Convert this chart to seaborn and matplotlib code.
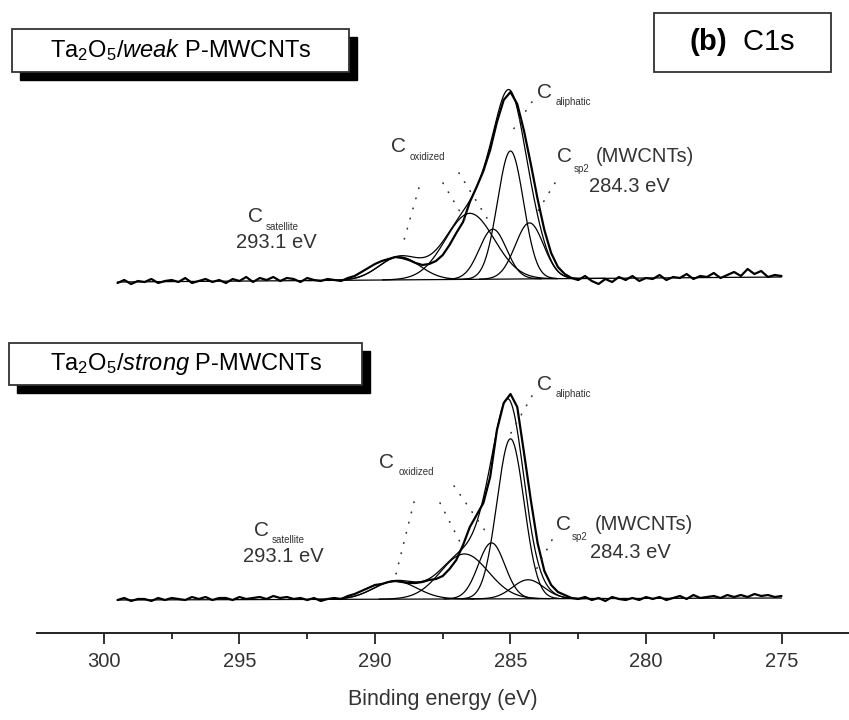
import numpy as np
import pandas as pd
import matplotlib
matplotlib.use('Agg')
import matplotlib.pyplot as plt
import seaborn as sns
from matplotlib.patches import Rectangle

# 1. Data (intensity in a.u., 0.25 eV steps from 299.5 eV)
E_START, E_STEP = 299.5, 0.25

weak_counts = [2, 5, 1, 4, 3, 6, 2, 4, 5, 3, 7, 2, 4, 6, 3, 5,
               2, 6, 4, 8, 3, 7, 5, 8, 4, 7, 6, 3, 7, 5, 4, 6,
               5, 4, 7, 9, 13, 17, 21, 24, 26, 28, 27, 25, 22, 20, 21, 24,
               30, 40, 52, 63, 83, 98, 114, 135, 163, 185, 193, 181, 154, 121, 86, 55,
               32, 18, 11, 7, 5, 9, 4, 1, 6, 3, 8, 5, 9, 4, 7, 6,
               10, 5, 8, 7, 11, 6, 9, 8, 12, 7, 10, 13, 9, 16, 11, 14,
               8, 10, 9]

strong_counts = [3, 5, 2, 4, 4, 2, 5, 3, 5, 4, 3, 6, 4, 6, 3, 5,
                 5, 3, 6, 4, 5, 6, 4, 7, 5, 6, 4, 5, 3, 5, 2, 4,
                 5, 4, 7, 9, 12, 15, 18, 19, 21, 22, 21, 20, 20, 21, 23, 24,
                 27, 34, 43, 58, 76, 88, 100, 126, 173, 200, 209, 196, 150, 103, 60, 32,
                 18, 11, 8, 5, 4, 6, 3, 5, 2, 6, 4, 3, 5, 3, 6, 4,
                 6, 3, 5, 7, 4, 8, 5, 6, 7, 5, 8, 6, 8, 6, 9, 7,
                 8, 6, 7]

# fitted components: satellite, oxidized, C-O, aliphatic, sp2
weak_centers = [289.1, 286.5, 285.65, 285.0, 284.3]
weak_heights = [23, 66, 50, 128, 56]
weak_widths = [0.75, 0.9, 0.5, 0.48, 0.52]
weak_bg = [3, 8]

strong_centers = [289.25, 286.7, 285.7, 285.0, 284.35]
strong_heights = [18, 45, 56, 160, 19]
strong_widths = [0.8, 0.88, 0.49, 0.5, 0.58]
strong_bg = [3, 5]

WEAK_OFFSET, STRONG_OFFSET = 348, 30
x_ticks = [300, 295, 290, 285, 280, 275]
TXT = '#333333'

energy = E_START - E_STEP * np.arange(len(weak_counts))


def background(e, bg):
    return bg[0] + (bg[1] - bg[0]) * (E_START - e) / (E_START - energy[-1])


def gauss(e, c, h, s):
    return h * np.exp(-(e - c) ** 2 / (2 * s ** 2))


# 2. Figure setup
sns.set_theme(style='white')
plt.rcParams['font.family'] = ['Liberation Sans', 'DejaVu Sans']
plt.rcParams['mathtext.fontset'] = 'custom'
plt.rcParams['mathtext.rm'] = 'Liberation Sans'
plt.rcParams['mathtext.it'] = 'Liberation Sans:italic'
plt.rcParams['mathtext.bf'] = 'Liberation Sans:bold'

W, H = 849, 720
fig = plt.figure(figsize=(W / 100, H / 100), dpi=100)
ax = fig.add_axes([37 / W, 87 / H, 812 / W, 633 / H])


def draw_spectrum(counts, centers, heights, widths, bg, offset):
    df = pd.DataFrame({'energy': energy, 'counts': np.array(counts) + offset})
    sns.lineplot(data=df, x='energy', y='counts', ax=ax, color='black', lw=1.6, sort=False)
    ax.plot(energy, background(energy, bg) + offset, color='black', lw=0.9)
    fine = np.linspace(292.5, 281.5, 500)
    total = background(fine, bg).copy()
    for c, h, s in zip(centers, heights, widths):
        seg = fine[(fine <= c + 3.6 * s) & (fine >= c - 3.6 * s)]
        ax.plot(seg, background(seg, bg) + gauss(seg, c, h, s) + offset, color='black', lw=0.9)
        total += gauss(fine, c, h, s)
    ax.plot(fine, total + offset, color='black', lw=0.9)


draw_spectrum(weak_counts, weak_centers, weak_heights, weak_widths, weak_bg, WEAK_OFFSET)
draw_spectrum(strong_counts, strong_centers, strong_heights, strong_widths, strong_bg, STRONG_OFFSET)


# 3. Peak labels with dotted leaders
def c_label(e, y, sub, dx=7.5, dy=-7.5):
    ax.text(e, y, 'C', ha='center', va='center', fontsize=15, color=TXT)
    ax.annotate(sub, xy=(e, y), xytext=(dx, dy), textcoords='offset points',
                ha='left', va='center', fontsize=7, color=TXT)


def leader(e1, y1, e2, y2):
    ax.plot([e1, e2], [y1, y2], color=TXT, lw=1.2, linestyle=(0, (0.3, 6)),
            dash_capstyle='round')


# top spectrum
c_label(294.4, 416, 'satellite')
ax.text(293.65, 390, '293.1 eV', ha='center', va='center', fontsize=14.5, color=TXT)
c_label(289.15, 486, 'oxidized', dx=8.5)
c_label(283.73, 541, 'aliphatic')
c_label(283.0, 476, 'sp2', dx=6.5, dy=-9)
ax.text(281.85, 476, '(MWCNTs)', ha='left', va='center', fontsize=14.5, color=TXT)
ax.text(280.6, 447, '284.3 eV', ha='center', va='center', fontsize=14.5, color=TXT)
leader(288.38, 445, 289.0, 386)
leader(287.49, 450, 286.64, 411)
leader(286.90, 460, 285.87, 415)
leader(284.21, 531, 285.06, 497)
leader(283.36, 450, 284.10, 417)

# bottom spectrum
c_label(294.2, 103, 'satellite')
ax.text(293.4, 77, '293.1 eV', ha='center', va='center', fontsize=14.5, color=TXT)
c_label(289.56, 171, 'oxidized', dx=8.5)
c_label(283.73, 249, 'aliphatic')
c_label(283.06, 108, 'sp2', dx=6.5, dy=-9)
ax.text(281.88, 108, '(MWCNTs)', ha='left', va='center', fontsize=14.5, color=TXT)
ax.text(280.59, 80, '284.3 eV', ha='center', va='center', fontsize=14.5, color=TXT)
leader(288.56, 131, 289.26, 55)
leader(287.60, 130, 286.75, 85)
leader(287.08, 147, 285.83, 98)
leader(284.21, 237, 284.98, 200)
leader(283.47, 93, 284.06, 63)

# 4. Axis styling
ax.set_xlim(302.47, 272.51)
ax.set_ylim(0, 633)
ax.set_xticks(x_ticks)
ax.set_xticks([297.5, 292.5, 287.5, 282.5, 277.5], minor=True)
ax.set_xticklabels([str(t) for t in x_ticks])
ax.set_yticks([])
ax.set_ylabel('')
for s in ['left', 'right', 'top']:
    ax.spines[s].set_visible(False)
ax.spines['bottom'].set_linewidth(1.4)
ax.spines['bottom'].set_color('#222222')
ax.tick_params(axis='x', which='major', direction='out', length=8, width=1.3,
               color='#222222', labelsize=14.5, labelcolor=TXT, pad=6, bottom=True)
ax.tick_params(axis='x', which='minor', direction='out', length=4.5, width=1.3,
               color='#222222', bottom=True)
ax.set_xlabel('Binding energy (eV)', fontsize=15.5, color=TXT, labelpad=13)


# 5. Sample boxes
def fig_rect(x0, y0, x1, y1, **kw):
    return Rectangle((x0 / W, 1 - y1 / H), (x1 - x0) / W, (y1 - y0) / H,
                     transform=fig.transFigure, **kw)


def sample_box(x0, y0, x1, y1, label, shadow=True, size=17):
    if shadow:
        fig.add_artist(fig_rect(x0 + 8, y0 + 8, x1 + 8, y1 + 8, facecolor='black',
                                edgecolor='black', zorder=2))
    fig.add_artist(fig_rect(x0, y0, x1, y1, facecolor='white', edgecolor=TXT,
                            lw=1.3, zorder=3))
    fig.text((x0 + x1) / 2 / W, 1 - (y0 + y1) / 2 / H, label, ha='center', va='center',
             fontsize=size, color='black', zorder=4)


sample_box(12, 29, 349, 72, r'Ta$_\mathregular{2}$O$_\mathregular{5}$/$\mathit{weak}$ P-MWCNTs')
sample_box(9, 343, 362, 385, r'Ta$_\mathregular{2}$O$_\mathregular{5}$/$\mathit{strong}$ P-MWCNTs')
sample_box(654, 13, 831, 72, r'$\mathbf{(b)}$  C1s', shadow=False, size=21)

fig.savefig('out.png', dpi=100)
